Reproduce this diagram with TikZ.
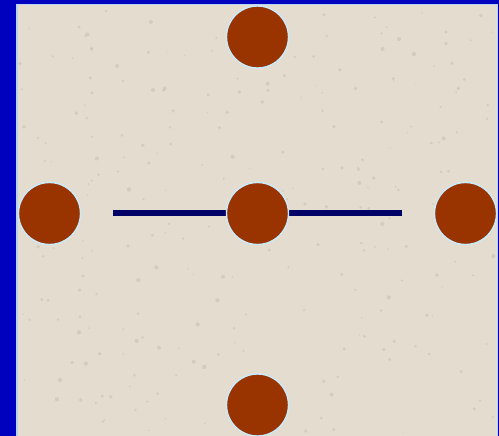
\documentclass[tikz,border=0pt]{standalone}
\definecolor{frameblue}{HTML}{0000BF}
\definecolor{edgeblue}{HTML}{B8D4F4}
\definecolor{paper}{HTML}{E4DCCF}
\definecolor{speck}{HTML}{C9BFB0}
\definecolor{ball}{HTML}{993300}
\definecolor{ballrim}{HTML}{C8ECFF}
\definecolor{bar}{HTML}{000066}
\tikzset{
  ballnode/.style={circle, fill=ball, draw=ballrim, line width=1.4pt, minimum size=62pt, inner sep=0pt},
  barline/.style={draw=bar, line width=6.5pt}
}
\begin{document}
\begin{tikzpicture}[x=1pt,y=-1pt]
\useasboundingbox (0,0) rectangle (499,436);
% frame and paper
\fill[frameblue] (0,0) rectangle (499,436);
\fill[edgeblue] (16,4) rectangle (498,436);
\fill[paper] (17.5,5.5) rectangle (496.5,436);
% subtle paper speckles
\pgfmathsetseed{7}
\foreach \i in {1,...,260}{
  \pgfmathsetmacro{\px}{20+rnd*474}
  \pgfmathsetmacro{\py}{8+rnd*426}
  \pgfmathsetmacro{\pr}{0.6+rnd*1.6}
  \fill[speck, opacity=0.55] (\px,\py) circle (\pr);
}
% connector ends
\coordinate (barL) at (113,213);
\coordinate (barR) at (402,213);
\draw[barline] (barL) -- (barR);
% balls
\node[ballnode] (top) at (257.5,37) {};
\node[ballnode] (left) at (49.5,213.5) {};
\node[ballnode] (mid) at (257.5,213.5) {};
\node[ballnode] (right) at (465.5,213.5) {};
\node[ballnode] (bottom) at (257.5,405) {};
\end{tikzpicture}
\end{document}
